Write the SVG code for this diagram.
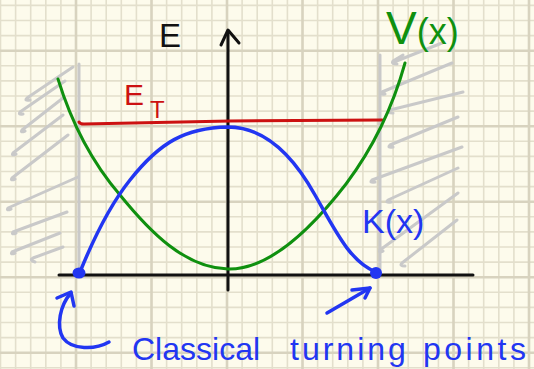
<svg xmlns="http://www.w3.org/2000/svg" width="534" height="369" viewBox="0 0 534 369">
<style>
.grid{stroke:#e3dfcc;stroke-width:1.6;fill:none}
.gridb{stroke:#d8d3bf;stroke-width:2.6;fill:none}
.hatch{stroke:#c9c9c9;stroke-width:3;fill:none;stroke-linecap:round;stroke-linejoin:round}
.axis{stroke:#111;stroke-width:3;fill:none;stroke-linecap:round;stroke-linejoin:round}
.red{stroke:#cc1111;stroke-width:3;fill:none;stroke-linecap:round}
.green{stroke:#0f900f;stroke-width:3;fill:none;stroke-linecap:round}
.blue{stroke:#2236f2;stroke-width:3.5;fill:none;stroke-linecap:round;stroke-linejoin:round}
.t{font-family:"Liberation Sans",Arial,sans-serif}
</style>
<rect width="534" height="369" fill="#fdfbec"/>
<g id="grid">
<path class="grid" d="M0.5,0V369M15.6,0V369M30.7,0V369M45.8,0V369M60.9,0V369M91.1,0V369M106.2,0V369M121.3,0V369M136.4,0V369M166.6,0V369M181.7,0V369M196.8,0V369M211.9,0V369M242.1,0V369M257.2,0V369M272.3,0V369M287.4,0V369M317.6,0V369M332.7,0V369M347.8,0V369M362.9,0V369M393.1,0V369M408.2,0V369M423.3,0V369M438.4,0V369M468.6,0V369M483.7,0V369M498.8,0V369M513.9,0V369
M0,5.4H534M0,20.5H534M0,35.6H534M0,65.8H534M0,80.9H534M0,96H534M0,111.1H534M0,141.3H534M0,156.4H534M0,171.5H534M0,186.6H534M0,216.8H534M0,231.9H534M0,247H534M0,262.1H534M0,292.3H534M0,307.4H534M0,322.5H534M0,337.6H534M0,367.8H534"/>
<path class="gridb" d="M76,0V369M151.5,0V369M227,0V369M302.5,0V369M378,0V369M453.5,0V369M529,0V369M0,50.7H534M0,126.2H534M0,201.7H534M0,277.2H534M0,352.7H534"/>
</g>
<g id="left-wall">
<path class="hatch" d="M79,64V272"/>
<path class="hatch" d="M73,67L27,98q-3,3 3,2M65,81L20,112q-2,3 3,2M63,98L22,130q-2,3 3,1M63,115L13,153q-2,3 3,1M68,135L12,178q-2,3 3,1M78,177L8,208q-2,3 3,1M67,212L13,232q-2,3 3,1M60,233L12,252q-2,3 3,1M63,247L33,258q-4,2 2,4"/>
</g>
<g id="right-wall">
<path class="hatch" d="M380,55V270"/>
<path class="hatch" d="M403,55L393,61q-2,3 4,3M394,62L442,43M452,63L382,92q-2,3 3,2M463,92L390,110q-3,3 3,3M458,117L390,145q-3,3 3,2M462,147L372,180q-3,3 3,2M458,168L388,200q-3,3 3,2M458,193L380,250q-2,3 3,1M457,220L402,263q-3,3 3,3"/>
</g>
<g id="axes">
<path class="axis" d="M59,275H473"/>
<path class="axis" d="M228,32V290"/>
<path class="axis" d="M221,45L228,30L239,43"/>
</g>
<g id="E-label"><text class="t" x="159" y="47" font-size="33" fill="#111">E</text></g>
<g id="ET-line">
<path class="red" d="M79,122q1,2 5,2L230,121L382,120"/>
<text class="t" x="124" y="105" font-size="30" fill="#cc1111">E<tspan x="150" y="118" font-size="24" letter-spacing="0">T</tspan></text>
</g>
<g id="V-curve">
<path class="green" d="M58,79C70,118 90,160 120,195C150,232 185,268 228,269C270,270 312,228 346,184C370,152 392,110 405,63"/>
<text class="t" x="386" y="44" font-size="46" fill="#0f900f">V<tspan font-size="36">(x)</tspan></text>
</g>
<g id="K-curve">
<path class="blue" d="M80,272C95,235 110,205 130,180C160,142 185,128 228,127C262,127 290,150 315,195C335,230 350,262 376,272"/>
<ellipse cx="79" cy="273" rx="6.5" ry="5.5" fill="#2236f2"/>
<circle cx="376" cy="273" r="6" fill="#2236f2"/>
<text class="t" x="362" y="233" font-size="34" fill="#2236f2">K(x)</text>
</g>
<g id="connectors">
<path class="blue" d="M109,342C95,350 72,350 63,338C56,326 60,305 71,293"/>
<path class="blue" d="M57,298L71,292L74,306"/>
<path class="blue" d="M327,313L370,288"/>
<path class="blue" d="M352,290L370,288L365,298"/>
</g>
<g id="caption">
<text class="t" y="360" font-size="32" fill="#2236f2"><tspan x="132">Classical </tspan><tspan x="290" letter-spacing="3">turning </tspan><tspan x="423" letter-spacing="3.5">points</tspan></text>
</g>
</svg>
